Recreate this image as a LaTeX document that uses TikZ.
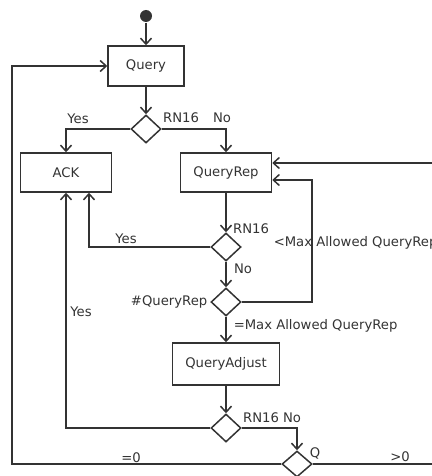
\documentclass[tikz,border=0pt]{standalone}
\usepackage{fontspec}
\setsansfont{DejaVu Sans}
\usepackage{tikz}
\usetikzlibrary{arrows.meta,shapes.geometric}
\definecolor{Ink}{HTML}{333333}

\begin{document}
\begin{tikzpicture}[x=.5pt,y=-.5pt,color=Ink,line width=.75pt,
    font=\sffamily\fontsize{6.6}{8}\selectfont,
    act/.style={draw,rectangle,minimum width=45.5pt,minimum height=19.5pt,inner sep=0},
    dec/.style={draw,diamond,minimum width=15pt,minimum height=14pt,inner sep=0},
    flow/.style={-{Straight Barb[length=3pt,width=5.5pt]}},
    lbl/.style={inner sep=0}]
        \useasboundingbox (0,0) rectangle (432,476);
        \clip (0,0) rectangle (432,476);
        \node[circle,fill=Ink,inner sep=0,minimum size=6pt] (init) at (146,16) {};
        \node[act,minimum width=38pt,minimum height=20pt] (query) at (146,66) {Query};
        \node[dec] (rn1) at (146,129) {};
        \node[act] (ack) at (66,172.5) {ACK};
        \node[act] (qrep) at (226,172.5) {QueryRep};
        \node[dec] (rn2) at (226,247) {};
        \node[dec] (cnt) at (226,302) {};
        \node[act,minimum width=53.5pt,minimum height=21pt] (qadj) at (226,364) {QueryAdjust};
        \node[dec] (rn3) at (226,428) {};
        \node[dec,minimum height=13pt] (qval) at (297,464) {};
        \coordinate (loopl) at (12,464);
        \coordinate (loopr) at (432,464);
        \coordinate (loopt) at (432,163);
        \draw[flow] (init) -- (query);
        \draw[flow] (query) -- (rn1);
        \draw[flow] (rn1.west) -| (ack.north);
        \draw[flow] (rn1.east) -| (qrep.north);
        \draw[flow] (qrep) -- (rn2);
        \draw[flow] (rn2.west) -| ([xshift=11.5pt]ack.south);
        \draw[flow] (rn2) -- (cnt);
        \draw[flow] (cnt.east) -- ++(35pt,0) |- ([yshift=-3.75pt]qrep.east);
        \draw[flow] (cnt) -- (qadj);
        \draw[flow] (qadj) -- (rn3);
        \draw[flow] (rn3.west) -| (ack.south);
        \draw[flow] (rn3.east) -| (qval.north);
        \draw[flow] (qval.west) -- (loopl) |- (query.west);
        \draw (qval.east) -- (loopr);
        \draw[flow] (loopt) -- ([yshift=4.75pt]qrep.east);
        \node[lbl] (yes1) at (78,119) {Yes};
        \node[lbl] (rnt1) at (181,118) {RN16};
        \node[lbl] (no1) at (222,118) {No};
        \node[lbl] (rnt2) at (251,229) {RN16};
        \node[lbl,anchor=west] (ltmax) at (273,243) {<Max Allowed QueryRep};
        \node[lbl] (yes2) at (126,239) {Yes};
        \node[lbl] (no2) at (243,269) {No};
        \node[lbl,anchor=east] (cntl) at (208,302) {\#QueryRep};
        \node[lbl,anchor=west] (eqmax) at (233,326) {=Max Allowed QueryRep};
        \node[lbl] (yes3) at (81,312) {Yes};
        \node[lbl] (rnt3) at (261,418) {RN16};
        \node[lbl] (no3) at (292,418) {No};
        \node[lbl] (ql) at (315,453) {Q};
        \node[lbl] (gt0) at (400,457) {>0};
        \node[lbl] (eq0) at (131,458) {=0};
      \end{tikzpicture}
\end{document}
